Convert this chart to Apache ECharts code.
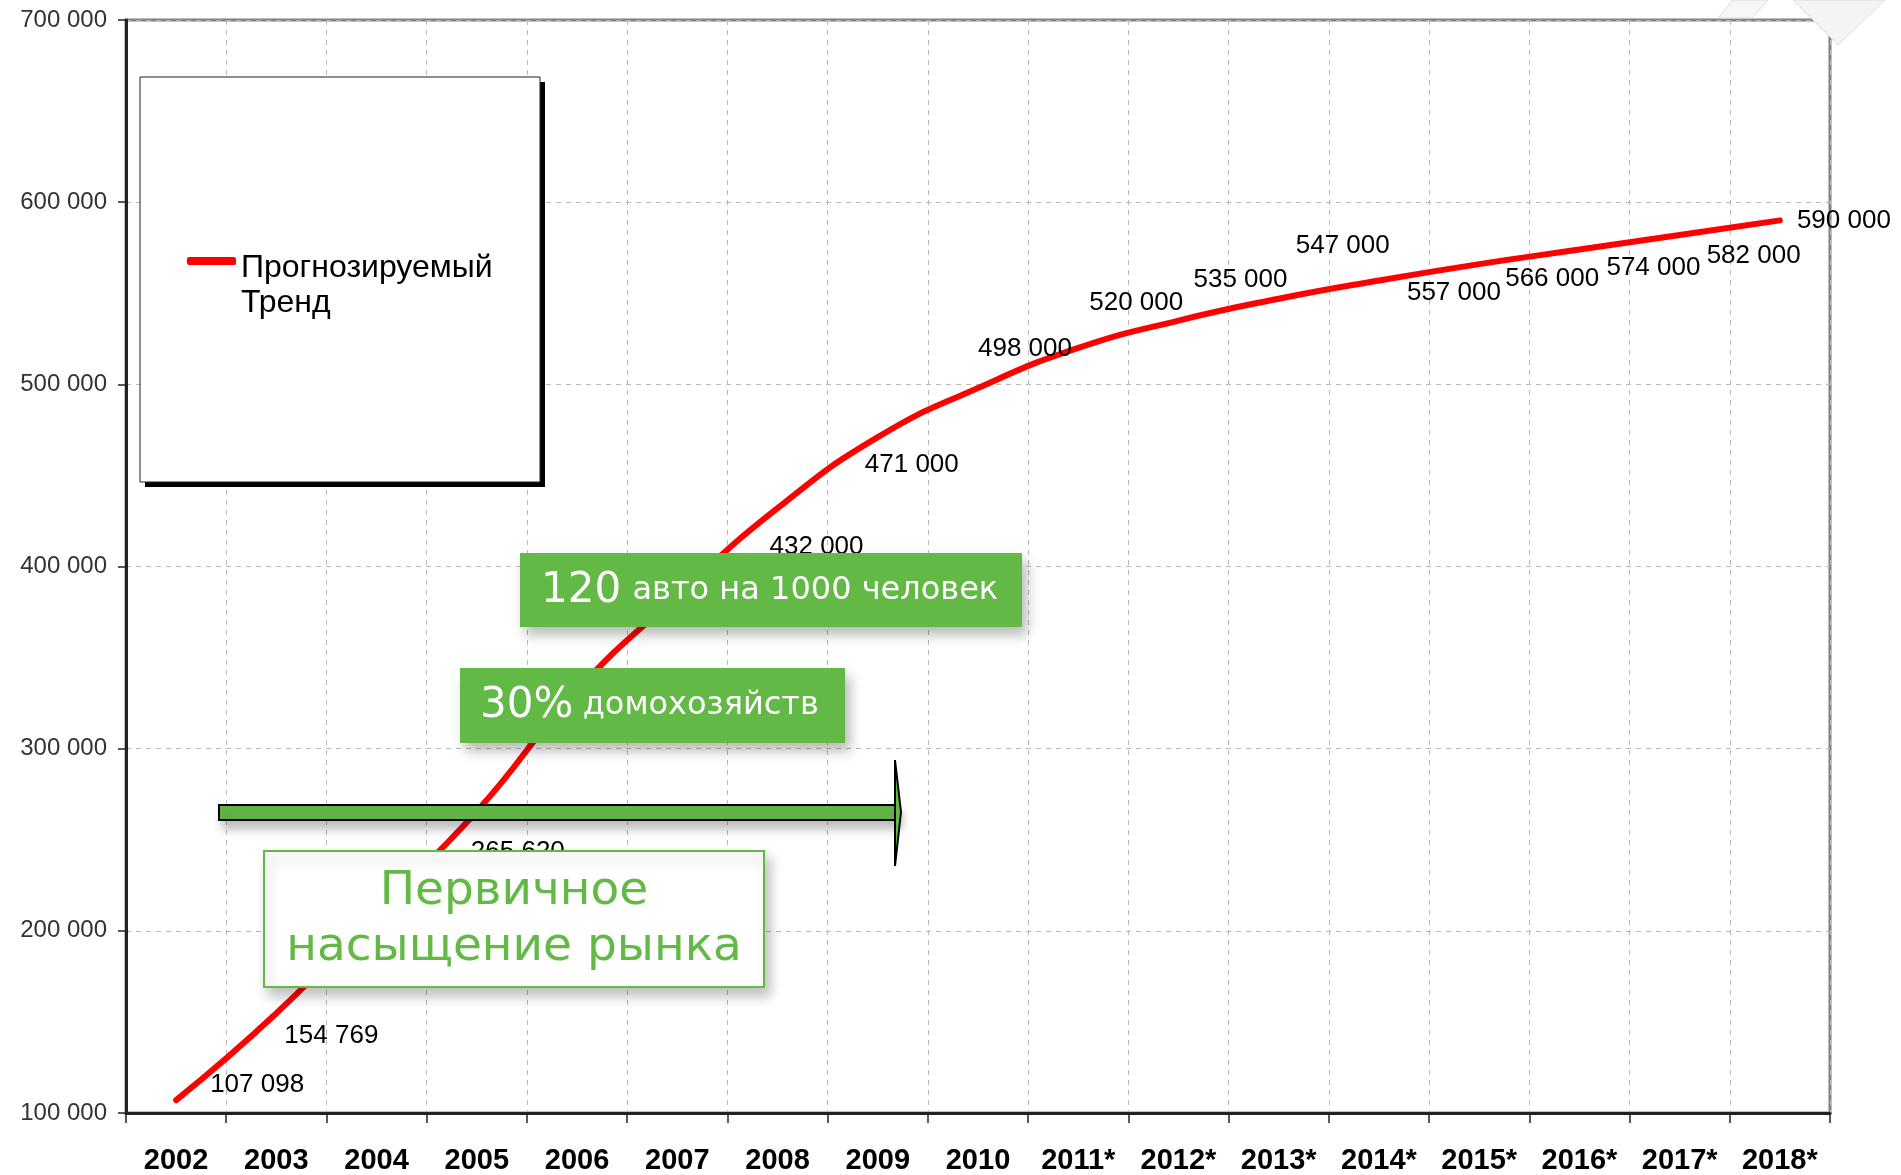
<!DOCTYPE html>
<html>
<head>
<meta charset="utf-8">
<title>Прогнозируемый тренд</title>
<script src="https://cdn.jsdelivr.net/npm/echarts@6/dist/echarts.min.js"></script>
<style>
  html, body { margin: 0; padding: 0; background: #fff; }
  #chart { width: 1901px; height: 1175px; }
</style>
</head>
<body>
<div id="chart"></div>
<script>
// категории и значения тренда
const years = ['2002', '2003', '2004', '2005', '2006', '2007', '2008', '2009', '2010',
  '2011*', '2012*', '2013*', '2014*', '2015*', '2016*', '2017*', '2018*'];
const trend = [107098, 154769, 210000, 265620, 332000, 384000, 432000, 471000, 498000,
  520000, 535000, 547000, 557000, 566000, 574000, 582000, 590000];
const yMin = 100000;
const yMax = 700000;
const yStep = 100000;
const seriesName = 'Прогнозируемый Тренд';

// где стоит подпись относительно точки (px)
const labelOffsets = [[81, -15], [55, 23], [45, 35], [41, 41], [40, 35], [40, 0], [39, 39], [34, 28],
  [47, -39], [58, -45], [62, -41], [64, -53], [75, 12], [73, 15], [74, 18], [74, 21], [64, 0]];

const GREEN = '#63b946';
const fmt = (v) => String(v).replace(/\B(?=(\d{3})+(?!\d))/g, ' ');

const chart = echarts.init(document.getElementById('chart'));

chart.setOption({
  animation: false,
  backgroundColor: '#fff',
  grid: {
    left: 126, right: 71, top: 20, bottom: 61,
    show: true, borderColor: '#808080', borderWidth: 3, backgroundColor: 'transparent'
  },
  legend: {
    left: 187, top: 221, padding: 0,
    z: 10,
    selectedMode: false,
    itemWidth: 49, itemHeight: 8,
    data: [{ name: seriesName, icon: 'roundRect' }],
    formatter: () => '{gap| }\n{t|Прогнозируемый}\n{t|Тренд}',
    textStyle: {
      rich: {
        gap: { fontSize: 10, lineHeight: 49 },
        t: { fontSize: 32, lineHeight: 35, fontFamily: 'Liberation Sans', color: '#000' }
      }
    }
  },
  xAxis: {
    type: 'category',
    data: years,
    boundaryGap: true,
    axisLine: { lineStyle: { color: '#222', width: 3 } },
    axisTick: { show: true, length: 10, lineStyle: { color: '#222', width: 1.5 } },
    axisLabel: {
      interval: 0, margin: 33,
      fontFamily: 'Liberation Sans', fontWeight: 'bold', fontSize: 29, color: '#000'
    },
    splitLine: { show: true, lineStyle: { color: '#b8b8b8', type: [5, 5], width: 1 } }
  },
  yAxis: {
    type: 'value',
    min: yMin, max: yMax, interval: yStep,
    axisLine: { show: true, lineStyle: { color: '#222', width: 3 } },
    axisTick: { show: true, length: 8, lineStyle: { color: '#222', width: 1.5 } },
    axisLabel: {
      margin: 19, formatter: fmt,
      fontFamily: 'Liberation Sans', fontSize: 24, color: '#333'
    },
    splitLine: { show: true, lineStyle: { color: '#b8b8b8', type: [5, 5], width: 1 } }
  },
  series: [{
    name: seriesName,
    type: 'line',
    smooth: true,
    symbol: 'circle',
    symbolSize: 2,
    showSymbol: true,
    itemStyle: { color: '#ff0000' },
    lineStyle: { color: '#ff0000', width: 6, cap: 'round' },
    label: {
      show: true,
      position: 'inside',
      formatter: (p) => fmt(p.value),
      fontFamily: 'Liberation Sans', fontSize: 26, color: '#000'
    },
    data: trend.map((v, i) => ({ value: v, label: { offset: labelOffsets[i] } }))
  }],
  graphic: [
    // рамка легенды с жёсткой тенью
    {
      type: 'rect', z: 5,
      shape: { x: 145, y: 82, width: 400, height: 405 },
      style: { fill: '#000' }
    },
    {
      type: 'rect', z: 6,
      shape: { x: 140, y: 77, width: 400, height: 405 },
      style: { fill: '#fff', stroke: '#222', lineWidth: 1 }
    },
    // декор в правом верхнем углу слайда
    {
      type: 'polygon', z: 1,
      shape: { points: [[1718, 18], [1733, 0], [1768, 0], [1752, 18]] },
      style: { fill: '#f7f7f7', stroke: '#dddddd', lineWidth: 1 }
    },
    {
      type: 'polygon', z: 1,
      shape: { points: [[1793, 0], [1838, 45], [1885, 0]] },
      style: { fill: '#f4f4f4', stroke: '#dddddd', lineWidth: 1 }
    },
    // 120 авто на 1000 человек
    {
      type: 'rect', z: 100,
      shape: { x: 520, y: 553, width: 502, height: 74 },
      style: { fill: GREEN, shadowColor: 'rgba(0,0,0,0.28)', shadowBlur: 12, shadowOffsetX: 5, shadowOffsetY: 8 }
    },
    {
      type: 'text', z: 101, x: 541, y: 591,
      style: {
        text: '{b|120} {s|авто на 1000 человек}',
        verticalAlign: 'middle',
        rich: {
          b: { fontFamily: 'DejaVu Sans', fontSize: 42, fill: '#fff', padding: [0, 8, 0, 0] },
          s: { fontFamily: 'DejaVu Sans', fontSize: 32, fill: '#fff' }
        }
      }
    },
    // 30% домохозяйств
    {
      type: 'rect', z: 100,
      shape: { x: 460, y: 668, width: 385, height: 75 },
      style: { fill: GREEN, shadowColor: 'rgba(0,0,0,0.28)', shadowBlur: 12, shadowOffsetX: 5, shadowOffsetY: 8 }
    },
    {
      type: 'text', z: 101, x: 480, y: 706,
      style: {
        text: '{b|30%} {s|домохозяйств}',
        verticalAlign: 'middle',
        rich: {
          b: { fontFamily: 'DejaVu Sans', fontSize: 42, fill: '#fff', padding: [0, 6, 0, 0] },
          s: { fontFamily: 'DejaVu Sans', fontSize: 32, fill: '#fff' }
        }
      }
    },
    // стрелка
    {
      type: 'rect', z: 100,
      shape: { x: 219, y: 805, width: 678, height: 15 },
      style: { fill: GREEN, stroke: '#000', lineWidth: 2, shadowColor: 'rgba(0,0,0,0.25)', shadowBlur: 10, shadowOffsetX: 4, shadowOffsetY: 8 }
    },
    {
      type: 'polygon', z: 101,
      shape: { points: [[895, 760], [901, 812], [895, 866]] },
      style: { fill: GREEN, stroke: '#000', lineWidth: 2 }
    },
    // Первичное насыщение рынка
    {
      type: 'rect', z: 100,
      shape: { x: 264, y: 851, width: 500, height: 136 },
      style: { fill: '#fff', stroke: GREEN, lineWidth: 2, shadowColor: 'rgba(0,0,0,0.25)', shadowBlur: 12, shadowOffsetX: 5, shadowOffsetY: 8 }
    },
    {
      type: 'text', z: 101, x: 514, y: 920,
      style: {
        text: 'Первичное\nнасыщение рынка',
        align: 'center', verticalAlign: 'middle',
        fontFamily: 'DejaVu Sans', fontSize: 47, lineHeight: 56, fill: GREEN
      }
    }
  ]
});

window.addEventListener('resize', () => chart.resize());
</script>
</body>
</html>
